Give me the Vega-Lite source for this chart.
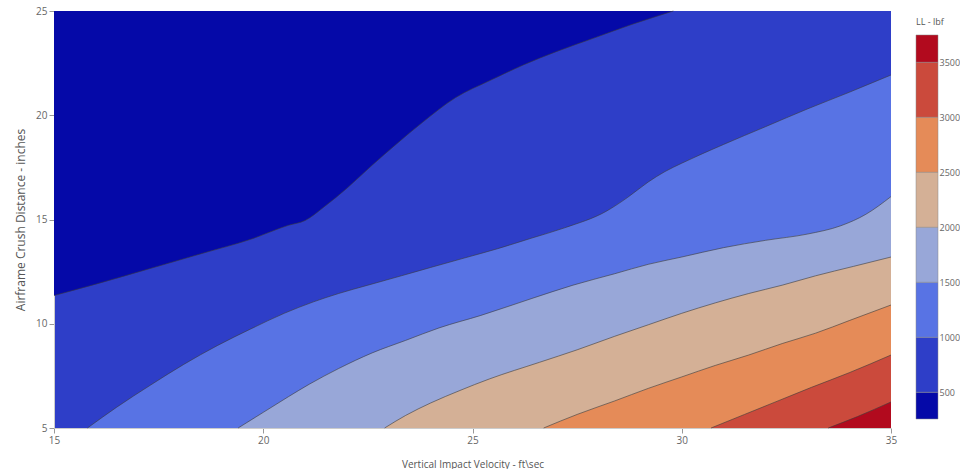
{
  "$schema": "https://vega.github.io/schema/vega-lite/v6.json",
  "background": "white",
  "padding": {"left": 14, "top": 6, "right": 0, "bottom": 0},
  "spacing": 25,
  "bounds": "flush",
  "resolve": {"scale": {"color": "independent"}},
  "config": {"font": "Open Sans", "view": {"stroke": null}},
  "datasets": {
    "contours": [
      {"level":500,"x":15,"y":11.35},{"level":500,"x":16,"y":11.9},{"level":500,"x":17.3,"y":12.65},{"level":500,"x":18.5,"y":13.35},{"level":500,"x":19.7,"y":14.05},{"level":500,"x":20.6,"y":14.72},{"level":500,"x":21.0,"y":14.95},{"level":500,"x":21.45,"y":15.6},{"level":500,"x":22.0,"y":16.5},{"level":500,"x":22.6,"y":17.6},{"level":500,"x":23.2,"y":18.65},{"level":500,"x":23.8,"y":19.65},{"level":500,"x":24.6,"y":20.85},{"level":500,"x":25.4,"y":21.65},{"level":500,"x":26.2,"y":22.4},{"level":500,"x":27.0,"y":23.05},{"level":500,"x":27.9,"y":23.7},{"level":500,"x":28.8,"y":24.35},{"level":500,"x":29.8,"y":25},
      {"level":1000,"x":15.8,"y":5},{"level":1000,"x":16.5,"y":6.0},{"level":1000,"x":17.3,"y":7.05},{"level":1000,"x":18.1,"y":8.05},{"level":1000,"x":18.9,"y":8.95},{"level":1000,"x":19.7,"y":9.75},{"level":1000,"x":20.5,"y":10.5},{"level":1000,"x":21.2,"y":11.05},{"level":1000,"x":21.8,"y":11.45},{"level":1000,"x":22.5,"y":11.85},{"level":1000,"x":23.3,"y":12.3},{"level":1000,"x":24.0,"y":12.7},{"level":1000,"x":24.8,"y":13.15},{"level":1000,"x":25.6,"y":13.6},{"level":1000,"x":26.4,"y":14.1},{"level":1000,"x":27.2,"y":14.6},{"level":1000,"x":28.2,"y":15.4},{"level":1000,"x":28.7,"y":16.05},{"level":1000,"x":29.2,"y":16.8},{"level":1000,"x":29.6,"y":17.3},{"level":1000,"x":30.0,"y":17.7},{"level":1000,"x":31.0,"y":18.6},{"level":1000,"x":32.0,"y":19.45},{"level":1000,"x":33.0,"y":20.3},{"level":1000,"x":34.0,"y":21.1},{"level":1000,"x":35.0,"y":21.93},
      {"level":1500,"x":19.4,"y":5},{"level":1500,"x":20.0,"y":5.75},{"level":1500,"x":20.6,"y":6.5},{"level":1500,"x":21.1,"y":7.1},{"level":1500,"x":21.8,"y":7.85},{"level":1500,"x":22.6,"y":8.6},{"level":1500,"x":23.4,"y":9.2},{"level":1500,"x":24.2,"y":9.8},{"level":1500,"x":25.2,"y":10.4},{"level":1500,"x":26.4,"y":11.2},{"level":1500,"x":27.4,"y":11.85},{"level":1500,"x":28.4,"y":12.4},{"level":1500,"x":29.2,"y":12.85},{"level":1500,"x":30.0,"y":13.2},{"level":1500,"x":31.0,"y":13.65},{"level":1500,"x":32.0,"y":14.0},{"level":1500,"x":33.0,"y":14.3},{"level":1500,"x":33.8,"y":14.7},{"level":1500,"x":34.4,"y":15.25},{"level":1500,"x":35.0,"y":16.1},
      {"level":2000,"x":22.9,"y":5},{"level":2000,"x":23.4,"y":5.6},{"level":2000,"x":24.0,"y":6.2},{"level":2000,"x":24.7,"y":6.8},{"level":2000,"x":25.4,"y":7.35},{"level":2000,"x":26.6,"y":8.15},{"level":2000,"x":27.5,"y":8.75},{"level":2000,"x":28.4,"y":9.4},{"level":2000,"x":29.2,"y":9.95},{"level":2000,"x":30.0,"y":10.5},{"level":2000,"x":30.8,"y":11.0},{"level":2000,"x":31.6,"y":11.45},{"level":2000,"x":32.4,"y":11.85},{"level":2000,"x":33.2,"y":12.3},{"level":2000,"x":34.1,"y":12.75},{"level":2000,"x":35.0,"y":13.2},
      {"level":2500,"x":26.7,"y":5},{"level":2500,"x":27.5,"y":5.65},{"level":2500,"x":28.4,"y":6.3},{"level":2500,"x":29.2,"y":6.9},{"level":2500,"x":30.0,"y":7.45},{"level":2500,"x":30.8,"y":8.0},{"level":2500,"x":31.6,"y":8.5},{"level":2500,"x":32.4,"y":9.05},{"level":2500,"x":33.2,"y":9.55},{"level":2500,"x":34.0,"y":10.15},{"level":2500,"x":35.0,"y":10.9},
      {"level":3000,"x":30.7,"y":5},{"level":3000,"x":31.5,"y":5.65},{"level":3000,"x":32.3,"y":6.3},{"level":3000,"x":33.1,"y":6.95},{"level":3000,"x":34.0,"y":7.65},{"level":3000,"x":35.0,"y":8.5},
      {"level":3500,"x":33.5,"y":5},{"level":3500,"x":34.2,"y":5.55},{"level":3500,"x":35.0,"y":6.25}
    ],
    "bands": [
      {"lo":257,"hi":500},{"lo":500,"hi":1000},{"lo":1000,"hi":1500},{"lo":1500,"hi":2000},{"lo":2000,"hi":2500},{"lo":2500,"hi":3000},{"lo":3000,"hi":3500},{"lo":3500,"hi":3748}
    ]
  },
  "hconcat": [
    {
      "width": 837,
      "height": 417,
      "view": {"fill": "#2e3ec8", "stroke": null},
      "data": {"name": "contours"},
      "encoding": {
        "x": {"field": "x", "type": "quantitative",
          "scale": {"domain": [15, 35], "nice": false, "zero": false},
          "axis": {"values": [15, 20, 25, 30, 35], "title": "Vertical Impact Velocity - ft\\sec", "grid": false,
            "labelFlush": false, "tickSize": 5, "tickColor": "#999", "domainColor": "#ccc", "labelPadding": 2,
            "labelFontSize": 10, "labelColor": "#666", "titleFontSize": 10, "titleFontWeight": "normal",
            "titleColor": "#555", "titlePadding": 14}},
        "y": {"field": "y", "type": "quantitative", "stack": null,
          "scale": {"domain": [5, 25], "nice": false, "zero": false},
          "axis": {"values": [5, 10, 15, 20, 25], "title": "Airframe Crush Distance - inches", "grid": false,
            "labelFlush": false, "tickSize": 5, "tickColor": "#999", "domainColor": "#ccc", "labelPadding": 2,
            "labelFontSize": 10, "labelColor": "#666", "titleFontSize": 12, "titleFontWeight": "normal",
            "titleColor": "#555", "titlePadding": 8}}
      },
      "layer": [
        {
          "transform": [{"filter": "datum.level === 500"}],
          "mark": {"type": "area", "interpolate": "monotone", "color": "#0509a8"},
          "encoding": {"y2": {"datum": 25}}
        },
        {
          "transform": [{"filter": "datum.level > 500"}],
          "mark": {"type": "area", "interpolate": "monotone"},
          "encoding": {
            "y2": {"datum": 5},
            "color": {"field": "level", "type": "ordinal",
              "scale": {"domain": [1000, 1500, 2000, 2500, 3000, 3500],
                "range": ["#5873e4", "#98a7d8", "#d4b096", "#e58b58", "#cb4a3c", "#b20a1e"]},
              "legend": null}
          }
        },
        {
          "mark": {"type": "line", "interpolate": "monotone", "color": "#3a3a3a", "strokeWidth": 0.6},
          "encoding": {"detail": {"field": "level"}}
        }
      ]
    },
    {
      "width": 22,
      "height": 417,
      "data": {"name": "bands"},
      "title": {"text": "LL - lbf", "anchor": "start", "frame": "group", "offset": -16, "fontSize": 9, "fontWeight": "normal", "color": "#555"},
      "mark": {"type": "rect", "stroke": "#888", "strokeWidth": 0.5},
      "encoding": {
        "y": {"field": "lo", "type": "quantitative",
          "scale": {"domain": [175, 3966], "nice": false, "zero": false},
          "axis": {"orient": "right", "values": [500, 1000, 1500, 2000, 2500, 3000, 3500], "format": "d", "domain": false, "ticks": false,
            "grid": false, "title": null, "labelPadding": 1, "labelFontSize": 9, "labelColor": "#666"}},
        "y2": {"field": "hi"},
        "color": {"field": "lo", "type": "ordinal",
          "scale": {"domain": [257, 500, 1000, 1500, 2000, 2500, 3000, 3500],
            "range": ["#0509a8", "#2e3ec8", "#5873e4", "#98a7d8", "#d4b096", "#e58b58", "#cb4a3c", "#b20a1e"]},
          "legend": null}
      }
    }
  ]
}
